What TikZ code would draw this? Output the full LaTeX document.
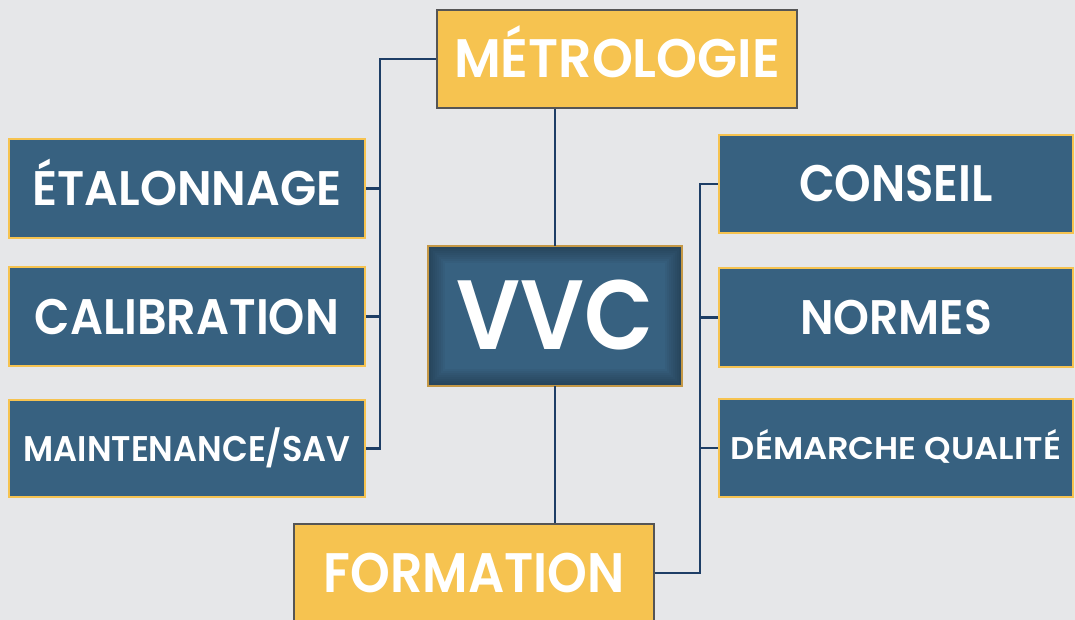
\documentclass[tikz,border=0pt]{standalone}
\usepackage{fontspec}
\usepackage{graphicx}
\setmainfont{Poppins}[BoldFont={Poppins SemiBold}]
\definecolor{pagebg}{RGB}{230,231,233}
\definecolor{boxblue}{RGB}{55,97,128}
\definecolor{boxgold}{RGB}{246,195,80}
\definecolor{rimgray}{RGB}{85,85,85}
\definecolor{rimgold}{RGB}{196,152,70}
\definecolor{wire}{RGB}{30,62,102}
% label: cap height (pt, bare number), target width, text
\newcommand\boxlabel[3]{%
  \fontsize{20pt}{20pt}\selectfont\bfseries
  \pgfmathsetmacro\lblsize{20*#1/\the\fontcharht\font`\H}%
  \fontsize{\lblsize pt}{\lblsize pt}\selectfont
  \resizebox{#2}{\height}{#3}}
\begin{document}
\begin{tikzpicture}[x=1pt,y=-1pt,
  item/.style={draw=boxgold,line width=2.5pt,fill=boxblue,text=white,
    minimum width=356pt,minimum height=99pt,inner sep=0pt,text depth=0pt},
  topic/.style={draw=rimgray,line width=2.5pt,fill=boxgold,text=white,
    minimum width=360pt,minimum height=98pt,inner sep=0pt,text depth=0pt},
  hub/.style={draw=none,fill=boxblue,text=white,
    minimum width=254pt,minimum height=140pt,inner sep=0pt,text depth=0pt},
  link/.style={draw=wire,line width=2.4pt}]
\useasboundingbox (0,0) rectangle (1075,620);
\clip (0,0) rectangle (1075,620);
\fill[pagebg] (0,0) rectangle (1075,620);

% top and bottom themes
\node[topic,text height=38pt] (met) at (617,59) {\boxlabel{38}{326pt}{MÉTROLOGIE}\hspace{4pt}};
\node[topic,text height=39pt] (form) at (474,573) {\boxlabel{39}{301pt}{FORMATION}\hspace{-7pt}};

% central hub with inner shading
\node[hub,text height=69pt] (vvc) at (555,316) {};
\begin{scope}
  \clip (vvc.south west) rectangle (vvc.north east);
  \foreach \w in {34,30,...,2}
    \draw[black,opacity=0.035,line width=\w pt] (vvc.south west) rectangle (vvc.north east);
\end{scope}
\draw[rimgold,line width=2.5pt] (vvc.south west) rectangle (vvc.north east);
\node[text=white,inner sep=0pt,text height=69pt,text depth=0pt] (vvctxt) at ([yshift=1.5pt]vvc.center)
  {\boxlabel{69}{197pt}{VVC}\hspace{7pt}};

% left column
\node[item,text height=34pt] (eta) at (187,188.5) {\boxlabel{34}{309pt}{ÉTALONNAGE}\hspace{17pt}};
\node[item,text height=35pt] (cal) at (187,316.5) {\boxlabel{35}{304pt}{CALIBRATION}\hspace{2pt}};
\node[item,text height=25pt,minimum height=97pt] (mai) at (187,448.5) {\boxlabel{25}{327pt}{MAINTENANCE/SAV}\hspace{1pt}};

% right column
\node[item,text height=36pt,minimum width=354pt,minimum height=98pt] (con) at (896,184) {\boxlabel{36}{194pt}{CONSEIL}\hspace{-2pt}};
\node[item,text height=34pt,minimum width=354pt,minimum height=99pt] (nor) at (896,317.5) {\boxlabel{34}{192pt}{NORMES}\hspace{-2pt}};
\node[item,text height=22pt,minimum width=354pt,minimum height=98pt] (dem) at (896,448) {\boxlabel{22}{330pt}{DÉMARCHE QUALITÉ}\hspace{-2pt}};

% connectors
\coordinate (lbus) at (380,59);
\coordinate (rbus) at (700,184);
\draw[link] (met.west) -- (lbus) |- (mai.east);
\draw[link] (eta.east) -- (eta.east -| lbus);
\draw[link] (cal.east) -- (cal.east -| lbus);
\draw[link] (vvc.north |- met.south) -- (vvc.north);
\draw[link] (vvc.south) -- (vvc.south |- form.north);
\draw[link] (con.west) -- (rbus) |- (form.east);
\draw[link] (nor.west) -- (nor.west -| rbus);
\draw[link] (dem.west) -- (dem.west -| rbus);
\end{tikzpicture}
\end{document}
